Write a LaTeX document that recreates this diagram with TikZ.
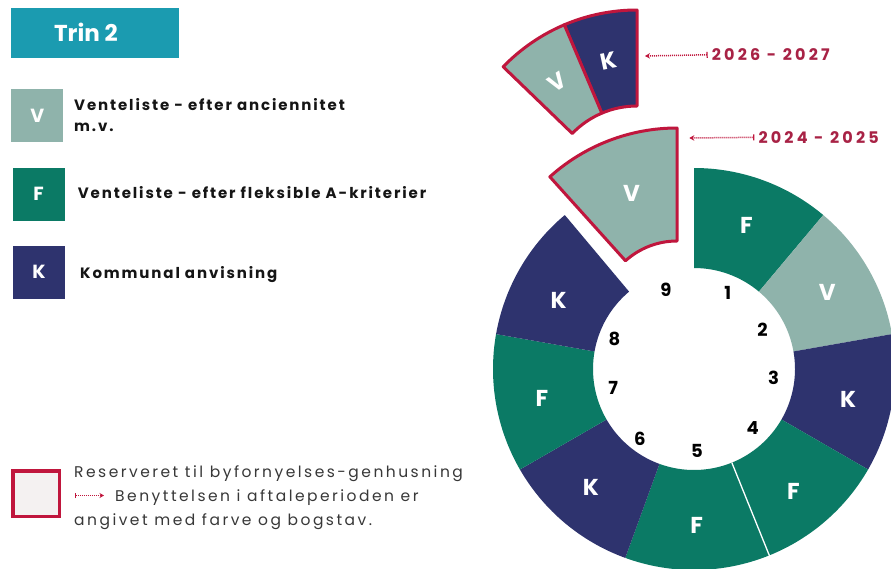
\documentclass[tikz,border=0pt]{standalone}
\usepackage{fontspec}
\setmainfont{Poppins}
\newfontfamily\popsp{Poppins}[LetterSpace=12.5]
\newfontfamily\popspb{Poppins}[LetterSpace=16]
\newfontfamily\popyr{Poppins}[LetterSpace=20]
\usetikzlibrary{calc,arrows.meta}
\definecolor{vcol}{HTML}{8FB3AB}
\definecolor{fcol}{HTML}{0B7A65}
\definecolor{kcol}{HTML}{2E336E}
\definecolor{redc}{HTML}{C0163D}
\definecolor{yearc}{HTML}{A82245}
\definecolor{trinc}{HTML}{1B9BB0}
\definecolor{legfill}{HTML}{F4F1F1}
\definecolor{txtc}{HTML}{151515}
\newcommand\annsec[6]{%
  \path[#6] ($(#1)+(#4:#2pt)$) arc[start angle=#4,end angle=#5,radius=#2pt]
    -- ($(#1)+(#5:#3pt)$) arc[start angle=#5,end angle=#4,radius=#3pt] -- cycle;}
\tikzset{
  seglet/.style={text=white,font=\bfseries\fontsize{23}{23}\selectfont,inner sep=0pt},
  numlab/.style={text=black,font=\bfseries\fontsize{18}{18}\selectfont,inner sep=0pt},
  legsq/.style={minimum width=52pt,minimum height=53pt,inner sep=0pt,text=white,
     font=\bfseries\fontsize{19}{19}\selectfont},
  legtxt/.style={anchor=base west,inner sep=0pt,text=txtc,font=\popsp\bfseries\fontsize{15}{15}\selectfont},
  legtxt2/.style={anchor=base west,inner sep=0pt,text=txtc!85,font=\popspb\fontsize{15.5}{15.5}\selectfont},
  yearlab/.style={anchor=base west,inner sep=0pt,text=yearc,font=\popyr\bfseries\fontsize{16}{16}\selectfont},
  yarrow/.style={draw=redc,line width=1.5pt,dash pattern=on 1pt off 1pt,{Bar[width=6pt,line width=1.2pt]}-{Stealth[length=5pt,width=5.5pt]}},
  redout/.style={draw=redc,line width=3pt,line join=round},
}
\begin{document}
\begin{tikzpicture}[x=1pt,y=1pt]
\clip (0,0) rectangle (891,-568);
\fill[white] (0,0) rectangle (891,-568);
% ---------- legend ----------
\node[fill=trinc,minimum width=168pt,minimum height=49.5pt,inner sep=0pt] (trin) at (95.2,-33) {};
\node[text=white,font=\bfseries\fontsize{23}{23}\selectfont,inner sep=0pt] (trintxt) at (86,-32) {Trin 2};
\node[legsq,fill=vcol] (sqV) at (37.2,-115.8) {V};
\node[legsq,fill=fcol] (sqF) at (38.5,-194) {F};
\node[legsq,fill=kcol] (sqK) at (39,-272.3) {K};
\node[legtxt] (tV1) at (74,-110) {Venteliste - efter anciennitet};
\node[legtxt] (tV2) at (74,-131) {m.v.};
\node[legtxt] (tF) at (77.7,-198.5) {Venteliste - efter fleksible A-kriterier};
\node[legtxt] (tK) at (80,-278.5) {Kommunal anvisning};
\node[fill=legfill,draw=redc,line width=3.5pt,minimum width=46.5pt,minimum height=45.5pt,inner sep=0pt] (sqR) at (36,-493.8) {};
\node[legtxt2] (r1) at (74,-477) {Reserveret til byfornyelses-genhusning};
\coordinate (la0) at (75,-495.5);
\coordinate (la1) at (104,-495.5);
\draw[yarrow,line width=1.3pt,{Bar[width=5pt,line width=1pt]}-{Stealth[length=4.5pt,width=5pt]}] (la0) -- (la1);
\node[legtxt2] (r2) at (115,-501) {Benyttelsen i aftaleperioden er};
\node[legtxt2] (r3) at (74,-525) {angivet med farve og bogstav.};
% ---------- main ring ----------
\coordinate (C) at (694,-369);
\annsec{C}{101}{201}{90}{50}{fill=fcol}
\annsec{C}{101}{201}{50}{10}{fill=vcol}
\annsec{C}{101}{201}{10}{-30}{fill=kcol}
\annsec{C}{101}{201}{-30}{-68}{fill=fcol}
\annsec{C}{101}{201}{-68}{-110}{fill=fcol}
\annsec{C}{101}{201}{-110}{-150}{fill=kcol}
\annsec{C}{101}{201}{-150}{-190}{fill=fcol}
\annsec{C}{101}{201}{-190}{-230}{fill=kcol}
\draw[white,line width=1.3pt] ($(C)+(-68:101pt)$) -- ($(C)+(-68:202pt)$);
\node[seglet] (s1) at ($(C)+(70:153pt)$) {F};
\node[seglet] (s2) at ($(C)+(30:154pt)$) {V};
\node[seglet] (s3) at ($(C)+(-11:157pt)$) {K};
\node[seglet] (s4) at ($(C)+(-51:158pt)$) {F};
\node[seglet] (s5) at ($(C)+(-89:156pt)$) {F};
\node[seglet] (s6) at ($(C)+(-131:157pt)$) {K};
\node[seglet] (s7) at ($(C)+(-169:155pt)$) {F};
\node[seglet] (s8) at ($(C)+(153:152pt)$) {K};
\node[numlab] (n1) at ($(C)+(66:83pt)$) {1};
\node[numlab] (n2) at ($(C)+(30:79pt)$) {2};
\node[numlab] (n3) at ($(C)+(-6:80pt)$) {3};
\node[numlab] (n4) at ($(C)+(-45:83pt)$) {4};
\node[numlab] (n5) at ($(C)+(-88:82pt)$) {5};
\node[numlab] (n6) at ($(C)+(-128:88pt)$) {6};
\node[numlab] (n7) at ($(C)+(-166.5:83pt)$) {7};
\node[numlab] (n8) at ($(C)+(159.4:85pt)$) {8};
\node[numlab] (n9) at ($(C)+(109.5:84pt)$) {9};
% ---------- moved segment 2024-2025 ----------
\coordinate (M) at (677,-318);
\annsec{M}{77}{190}{90}{132}{fill=vcol,redout}
\node[seglet] (m9) at ($(M)+(110:133pt)$) {V};
% ---------- top pair 2026-2027 ----------
\coordinate (U) at (637,-196);
\annsec{U}{90}{186}{90}{113}{fill=kcol,redout}
\annsec{U}{90}{186}{113}{136}{fill=vcol,redout}
\node[seglet,rotate=12] (uK) at ($(U)+(102:138pt)$) {K};
\node[seglet,rotate=33] (uV) at ($(U)+(125:139pt)$) {V};
% ---------- year labels ----------
\node[yearlab] (y1) at (711.7,-60.7) {2026 - 2027};
\node[yearlab] (y2) at (758.3,-143.3) {2024 - 2025};
\coordinate (t1) at (645,-56);
\coordinate (t2) at (689.3,-138);
\draw[yarrow] ([xshift=-4pt]y1.west) -- (t1);
\draw[yarrow] ([xshift=-4pt]y2.west) -- (t2);
\end{tikzpicture}
\end{document}
